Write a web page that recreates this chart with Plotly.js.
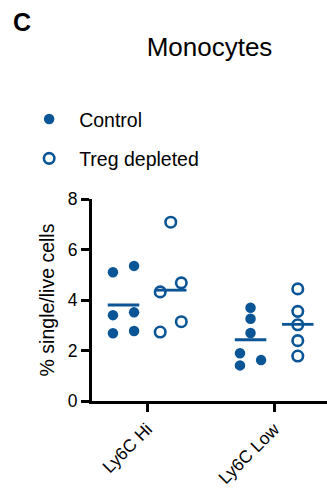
<!DOCTYPE html>
<html>
<head>
<meta charset="utf-8">
<script src="https://cdn.plot.ly/plotly-3.0.1.min.js"></script>
<style>html,body{margin:0;padding:0;background:#fff;}#chart{width:327px;height:489px;}</style>
</head>
<body>
<div id="chart"></div>
<script>
// Data
var categories = ['Ly6C Hi', 'Ly6C Low'];
var seriesNames = ['Control', 'Treg depleted'];
var controlHi  = [5.10, 5.35, 3.40, 3.51, 2.68, 2.77];
var controlHiJitter = [-1, 1, -1, 1, -1, 1];
var tregHi     = [7.08, 4.32, 4.68, 3.14, 2.73];
var tregHiJitter = [0, -1, 1, 1, -1];
var controlLow = [3.69, 3.26, 2.69, 1.89, 1.41, 1.62];
var controlLowJitter = [0, 0, 0, -1, -1, 1];
var tregLow    = [4.44, 3.55, 3.02, 2.39, 1.78];
var tregLowJitter = [0, 0, 0, 0, 0];
var yTicks = [0, 2, 4, 6, 8];

var BLUE = '#0a5596';
var FONT = 'Arial, "Liberation Sans", sans-serif';
var groupOffset = 0.186;
var jitterStep = 0.083;
var meanHalf = 0.124;

function xs(catIndex, offset, jit) {
  return jit.map(function (j) { return catIndex + 1 + offset + j * jitterStep; });
}
function mean(a) { return a.reduce(function (s, v) { return s + v; }, 0) / a.length; }

var groups = [
  {vals: controlHi, jit: controlHiJitter, cat: 0, off: -groupOffset, s: 0},
  {vals: controlLow, jit: controlLowJitter, cat: 1, off: -groupOffset, s: 0},
  {vals: tregHi, jit: tregHiJitter, cat: 0, off: groupOffset, s: 1},
  {vals: tregLow, jit: tregLowJitter, cat: 1, off: groupOffset, s: 1}
];

var traces = [];
// series point traces (one per series, used for legend)
[0, 1].forEach(function (s) {
  var x = [], y = [];
  groups.filter(function (g) { return g.s === s; }).forEach(function (g) {
    x = x.concat(xs(g.cat, g.off, g.jit));
    y = y.concat(g.vals);
  });
  traces.push({
    type: 'scatter', mode: 'markers', x: x, y: y, name: seriesNames[s],
    legendgroup: 'g' + s, showlegend: true, cliponaxis: false,
    marker: s === 0
      ? {symbol: 'circle', size: 10.5, color: BLUE, line: {width: 0}}
      : {symbol: 'circle-open', size: 10.5, color: BLUE, line: {width: 2.6, color: BLUE}}
  });
});
// mean lines
groups.forEach(function (g) {
  var c = g.cat + 1 + g.off, m = mean(g.vals);
  traces.push({
    type: 'scatter', mode: 'lines', x: [c - meanHalf, c + meanHalf], y: [m, m],
    showlegend: false, hoverinfo: 'skip',
    line: {color: BLUE, width: 2.8}
  });
});

var layout = {
  width: 327, height: 489,
  margin: {l: 92, r: 0, t: 199, b: 88, pad: 0},
  paper_bgcolor: '#fff', plot_bgcolor: '#fff',
  font: {family: FONT, color: '#000', size: 18},
  title: {text: 'Monocytes', font: {family: FONT, size: 26, color: '#000'},
          x: 0.5, xref: 'paper', xanchor: 'center', y: 0.905, yref: 'container', yanchor: 'middle'},
  showlegend: true,
  legend: {x: -0.31, xanchor: 'left', y: 1.298, yanchor: 'middle', yref: 'paper',
           font: {family: FONT, size: 19.5, color: '#000'}, itemwidth: 50,
           tracegroupgap: 11, bgcolor: 'rgba(0,0,0,0)', borderwidth: 0},
  xaxis: {range: [0.566, 2.416], tickvals: [1, 2], ticktext: categories, tickangle: -45,
          showline: true, linewidth: 3, linecolor: '#000', ticks: 'outside', ticklen: 8,
          tickwidth: 3, tickcolor: '#000', showgrid: false, zeroline: false,
          tickfont: {family: FONT, size: 17.5, color: '#000'}, fixedrange: true},
  yaxis: {range: [0, 8], tickvals: yTicks, ticks: 'outside', ticklen: 8, tickwidth: 3,
          tickcolor: '#000', showline: true, linewidth: 3, linecolor: '#000',
          showgrid: false, zeroline: false,
          tickfont: {family: FONT, size: 17.5, color: '#000'},
          title: {text: '% single/live cells', font: {family: FONT, size: 19.5, color: '#000'}, standoff: 8},
          fixedrange: true},
  annotations: [{text: '<b>C</b>', xref: 'paper', yref: 'paper', x: -0.345, y: 1.874,
                 xanchor: 'left', yanchor: 'middle', showarrow: false,
                 font: {family: FONT, size: 25, color: '#000'}}]
};

Plotly.newPlot('chart', traces, layout, {displayModeBar: false, staticPlot: true});
</script>
</body>
</html>
